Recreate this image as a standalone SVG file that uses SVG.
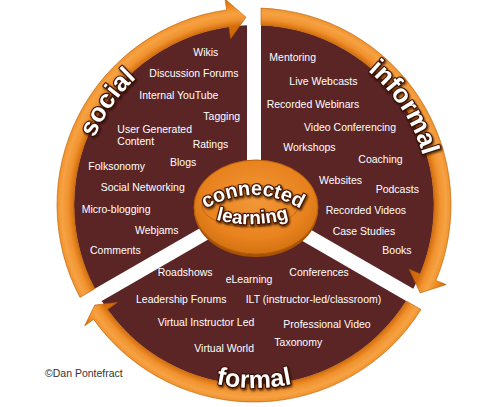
<svg xmlns="http://www.w3.org/2000/svg" width="488" height="407" viewBox="0 0 488 407">
<style>
.sector{fill:#5b2526;}
.ring{fill:url(#ringGrad);stroke:#b85a06;stroke-width:0.6;}
.t{fill:#ffffff;font-family:"Liberation Sans",Arial,sans-serif;font-size:10.5px;}
.big{fill:#ffffff;font-family:"Liberation Sans",Arial,sans-serif;font-weight:bold;font-size:26px;stroke:#3a1000;stroke-width:2.2px;paint-order:stroke;stroke-linejoin:round;filter:url(#txtShadow);}
.hubtxt{fill:#ffffff;font-family:"Liberation Sans",Arial,sans-serif;font-weight:bold;font-size:20px;stroke:#4a1800;stroke-width:2.4px;paint-order:stroke;stroke-linejoin:round;filter:url(#txtShadow);}
.copy{fill:#333333;font-family:"Liberation Sans",Arial,sans-serif;font-size:10.5px;}
</style>
<defs>
<radialGradient id="ringGrad" gradientUnits="userSpaceOnUse" cx="254" cy="205" r="210">
<stop offset="0.78" stop-color="#c86008"/>
<stop offset="0.857" stop-color="#d46e0c"/>
<stop offset="0.885" stop-color="#f0922e"/>
<stop offset="0.915" stop-color="#f6a244"/>
<stop offset="0.95" stop-color="#ee8a1c"/>
<stop offset="0.99" stop-color="#cc6808"/>
</radialGradient>
<radialGradient id="hubGrad" cx="0.5" cy="0.42" r="0.6">
<stop offset="0" stop-color="#f29838"/>
<stop offset="0.7" stop-color="#e8821e"/>
<stop offset="1" stop-color="#d0700e"/>
</radialGradient>
<filter id="txtShadow" x="-20%" y="-20%" width="140%" height="150%">
<feDropShadow dx="1" dy="1.5" stdDeviation="1" flood-color="#2a0800" flood-opacity="0.85"/>
</filter>
<path id="pSocial" d="M81.66,189.92 A173 173 0 0 1 180.89,48.21"/>
<path id="pInformal" d="M333.90,48.18 A176 176 0 0 1 429.76,195.79"/>
<path id="pFormal" d="M136.37,345.19 A183 183 0 0 0 371.63,345.19"/>
<path id="pConn" d="M200,212 Q253,178 306,212"/>
<path id="pLearn" d="M212,218.5 Q252,230.5 293,217.5"/>
</defs>
<rect width="488" height="407" fill="#ffffff"/>

<g id="social">
<path class="sector" d="M233.18,208.94 L94.74,288.87 A180 180 0 0 1 247,25.14 L247,185 Z"/>
<text class="t" x="193.3" y="55.8">Wikis</text>
<text class="t" x="149.3" y="76.5">Discussion Forums</text>
<text class="t" x="139.3" y="99.2">Internal YouTube</text>
<text class="t" x="203.3" y="120.2">Tagging</text>
<text class="t" x="117.3" y="133.2">User Generated</text>
<text class="t" x="117.3" y="144.8">Content</text>
<text class="t" x="192.7" y="148.2">Ratings</text>
<text class="t" x="88.3" y="170.2">Folksonomy</text>
<text class="t" x="170" y="165.8">Blogs</text>
<text class="t" x="100.7" y="190.8">Social Networking</text>
<text class="t" x="81.7" y="213.2">Micro-blogging</text>
<text class="t" x="135" y="233.5">Webjams</text>
<text class="t" x="90" y="253.5">Comments</text>
</g>

<g id="informal">
<path class="sector" d="M261,185 L261,25.14 A180 180 0 0 1 413.26,288.87 L274.82,208.94 Z"/>
<text class="t" x="269.3" y="60.8">Mentoring</text>
<text class="t" x="289.3" y="84.8">Live Webcasts</text>
<text class="t" x="266.7" y="107.5">Recorded Webinars</text>
<text class="t" x="304" y="130.8">Video Conferencing</text>
<text class="t" x="283.3" y="150.8">Workshops</text>
<text class="t" x="358.3" y="162.5">Coaching</text>
<text class="t" x="319" y="183.5">Websites</text>
<text class="t" x="375.7" y="192.5">Podcasts</text>
<text class="t" x="325.7" y="213.5">Recorded Videos</text>
<text class="t" x="332.7" y="234.8">Case Studies</text>
<text class="t" x="382.3" y="253.5">Books</text>
</g>

<g id="formal">
<path class="sector" d="M267.82,221.06 L406.26,300.99 A180 180 0 0 1 101.74,300.99 L240.18,221.06 Z"/>
<text class="t" x="157.7" y="275.8">Roadshows</text>
<text class="t" x="225.7" y="282.5">eLearning</text>
<text class="t" x="289.3" y="276.2">Conferences</text>
<text class="t" x="136" y="303.2">Leadership Forums</text>
<text class="t" x="245.7" y="303.2">ILT (instructor-led/classroom)</text>
<text class="t" x="157.7" y="325.8">Virtual Instructor Led</text>
<text class="t" x="283.3" y="327.5">Professional Video</text>
<text class="t" x="274.3" y="345.8">Taxonomy</text>
<text class="t" x="194.3" y="351.5">Virtual World</text>
</g>

<g id="connectors">
<path id="arrow-social" class="ring" d="M94.74,288.87 L80.0,297.38 A197 197 0 0 1 226.58,9.92 L225.05,-0.98 L246,17.2 L230.62,38.63 L228.95,26.75 A180 180 0 0 0 94.74,288.87 Z"/>
<path id="arrow-informal" class="ring" d="M261,25.14 L261,8.12 A197 197 0 0 1 436.00,280.39 L446.17,284.60 L420.2,292.88 L409.21,269.29 L420.30,273.88 A180 180 0 0 0 261,25.14 Z"/>
<path id="arrow-formal" class="ring" d="M406.26,300.99 L421.0,309.5 A197 197 0 0 1 93.62,319.40 L84.66,325.79 L94.8,305.0 L117.23,302.56 L107.46,309.53 A180 180 0 0 0 406.26,300.99 Z"/>
</g>

<g id="labels">
<text class="big"><textPath href="#pSocial" startOffset="50%" text-anchor="middle">social</textPath></text>
<text class="big"><textPath href="#pInformal" startOffset="50%" text-anchor="middle">informal</textPath></text>
<text class="big" style="font-size:25px"><textPath href="#pFormal" startOffset="50%" text-anchor="middle">formal</textPath></text>
</g>

<g id="center">
<ellipse cx="256" cy="210" rx="62" ry="47" fill="#a85206"/>
<ellipse cx="256" cy="207" rx="62" ry="47" fill="url(#hubGrad)" stroke="#b85e0a" stroke-width="1"/>
<ellipse cx="250" cy="206" rx="48" ry="21" fill="none" stroke="#b8600e" stroke-width="1" opacity="0.8"/>
<text class="hubtxt"><textPath href="#pConn" startOffset="50%" text-anchor="middle">connected</textPath></text>
<text class="hubtxt" style="font-size:19px"><textPath href="#pLearn" startOffset="50%" text-anchor="middle">learning</textPath></text>
</g>

<text class="copy" x="45" y="377.3">©Dan Pontefract</text>
</svg>
